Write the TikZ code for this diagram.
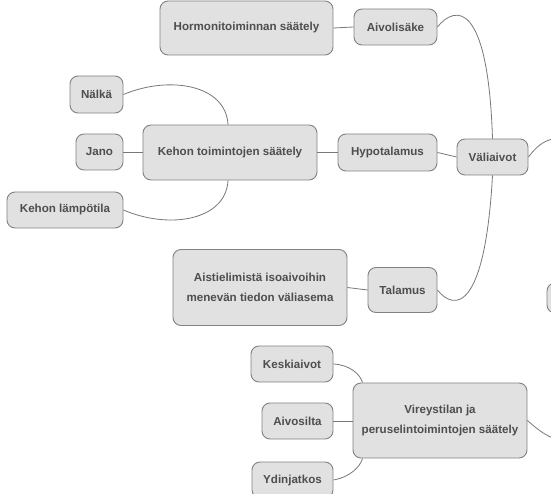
\documentclass[tikz,border=0pt]{standalone}
\usepackage{fontspec}
\setmainfont{Liberation Sans}
\definecolor{boxfill}{RGB}{225,225,225}
\definecolor{boxline}{RGB}{130,130,130}
\definecolor{boxtext}{RGB}{78,78,78}
\definecolor{linkcol}{RGB}{120,120,120}
\tikzset{
  mbox/.style={draw=boxline, fill=boxfill, line width=0.9pt, rounded corners=8pt,
    text=boxtext, font=\fontsize{11.6}{20}\selectfont\bfseries, align=center, inner sep=0pt},
  link/.style={draw=linkcol, line width=0.8pt}
}
\begin{document}
\begin{tikzpicture}[x=1pt,y=-1pt]
\clip (0,0) rectangle (551,494);
\fill[white] (0,0) rectangle (551,494);
% nodes
\node[mbox, minimum width=173pt, minimum height=54pt] (horm) at (246.5,28) {Hormonitoiminnan säätely};
\node[mbox, minimum width=83pt, minimum height=36pt] (aivo) at (395.5,27) {Aivolisäke};
\node[mbox, minimum width=53pt, minimum height=37pt] (nalka) at (96.5,94.5) {Nälkä};
\node[mbox, minimum width=47pt, minimum height=36pt] (jano) at (99.5,152) {Jano};
\node[mbox, minimum width=174pt, minimum height=55pt] (kehon) at (230,152.5) {Kehon toimintojen säätely};
\node[mbox, minimum width=116pt, minimum height=36pt] (lampo) at (65,210) {Kehon lämpötila};
\node[mbox, minimum width=99pt, minimum height=37pt] (hypo) at (387.5,152.5) {Hypotalamus};
\node[mbox, minimum width=71pt, minimum height=36pt] (vali) at (492.5,157) {Väliaivot};
\node[mbox, minimum width=69pt, minimum height=45pt] (tal) at (402.5,290) {Talamus};
\node[mbox, minimum width=174pt, minimum height=76pt] (aisti) at (260,287.5) {Aistielimistä isoaivoihin\\menevän tiedon väliasema};
\node[mbox, minimum width=80pt, minimum height=30pt] (part) at (587,298) {};
\node[mbox, minimum width=174pt, minimum height=75pt] (vir) at (440,420.5) {Vireystilan ja\\peruselintoimintojen säätely};
\node[mbox, minimum width=82pt, minimum height=36pt] (kesk) at (292,364) {Keskiaivot};
\node[mbox, minimum width=71pt, minimum height=36pt] (aivos) at (297.5,421) {Aivosilta};
\node[mbox, minimum width=81pt, minimum height=36pt] (ydin) at (292.5,480) {Ydinjatkos};
\coordinate (offA) at (553,139);
\coordinate (offB) at (553,438);
% connectors
\draw[link] (horm.east) -- (aivo.west);
\draw[link] (jano.east) -- (jano.east -| kehon.west);
\draw[link] (kehon.east) -- (hypo.west);
\draw[link] (hypo.east) -- (vali.west);
\draw[link] (aisti.east) -- (tal.west);
\draw[link] (aivos.east) -- (aivos.east -| vir.west);
\draw[link] (nalka.east) .. controls (170,75) and (226,85) .. ([xshift=-2pt]kehon.north);
\draw[link] (lampo.east) .. controls (170,230) and (226,220) .. ([xshift=-2pt]kehon.south);
\draw[link] (aivo.east) .. controls (455,5) and (488,0) .. (vali.north);
\draw[link] (tal.east) .. controls (455,312) and (485,310) .. (vali.south);
\draw[link] (vali.east) .. controls (536,147) and (543,141) .. (offA);
\draw[link] (vir.east) .. controls (536,428) and (543,434) .. (offB);
\draw[link] (kesk.east) .. controls (350,365) and (360,374) .. ([xshift=10pt]vir.north west);
\draw[link] (ydin.east) .. controls (350,477) and (360,467) .. ([xshift=10pt]vir.south west);
\end{tikzpicture}
\end{document}
